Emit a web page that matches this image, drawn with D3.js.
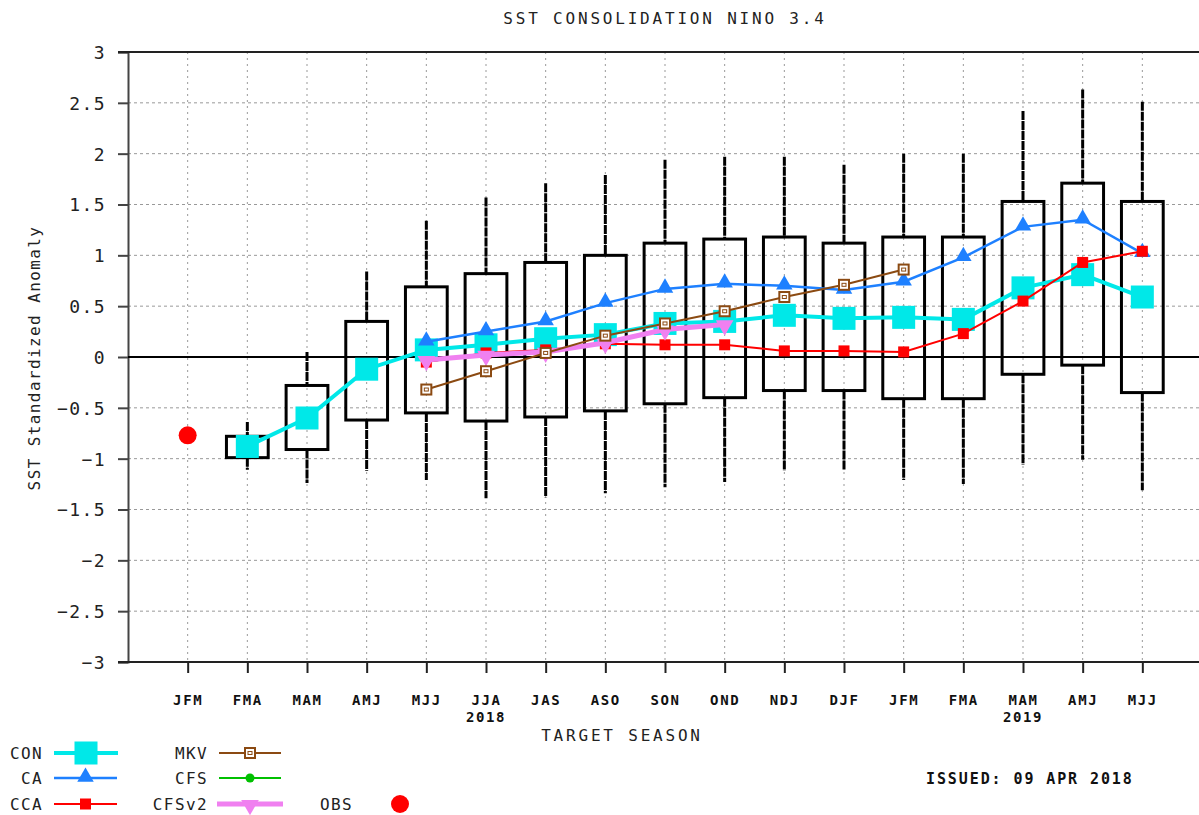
<!DOCTYPE html>
<html>
<head>
<meta charset="utf-8">
<script src="https://cdn.jsdelivr.net/npm/d3@7"></script>
<style>
  body { margin: 0; background: #fff; }
  svg { display: block; }
  text { font-family: "DejaVu Sans Mono", "Liberation Mono", monospace; fill: #222; }
</style>
</head>
<body>
<div id="chart"></div>
<script>
// target seasons and their labels
var seasons = ["JFM", "FMA", "MAM", "AMJ", "MJJ", "JJA", "JAS", "ASO", "SON", "OND", "NDJ", "DJF", "JFM", "FMA", "MAM", "AMJ", "MJJ"];
var yearLabels = [{ i: 6, text: "2018" }, { i: 15, text: "2019" }];
var yTicks = [-3, -2.5, -2, -1.5, -1, -0.5, 0, 0.5, 1, 1.5, 2, 2.5, 3];

// spread of the forecasts
var boxHigh = [null, -0.78, -0.28, 0.35, 0.69, 0.82, 0.93, 1.00, 1.12, 1.16, 1.18, 1.12, 1.18, 1.18, 1.53, 1.71, 1.53];
var boxLow = [null, -0.99, -0.91, -0.62, -0.55, -0.63, -0.59, -0.53, -0.46, -0.40, -0.33, -0.33, -0.41, -0.41, -0.17, -0.08, -0.35];
var whiskHigh = [null, -0.64, 0.05, 0.84, 1.34, 1.57, 1.71, 1.79, 1.94, 1.97, 1.97, 1.89, 2.00, 2.00, 2.42, 2.63, 2.51];
var whiskLow = [null, -1.11, -1.24, -1.12, -1.21, -1.39, -1.38, -1.34, -1.28, -1.23, -1.12, -1.11, -1.21, -1.25, -1.06, -1.01, -1.31];

// model forecasts
var con = [null, -0.88, -0.60, -0.12, 0.07, 0.12, 0.18, 0.22, 0.33, 0.35, 0.41, 0.38, 0.39, 0.37, 0.68, 0.81, 0.59];
var ca = [null, null, null, null, 0.15, 0.25, 0.35, 0.53, 0.67, 0.72, 0.70, 0.66, 0.74, 0.98, 1.28, 1.35, 1.02];
var cca = [null, null, null, null, -0.05, 0.04, 0.07, 0.13, 0.12, 0.12, 0.06, 0.06, 0.05, 0.23, 0.55, 0.93, 1.04];
var mkv = [null, null, null, null, -0.32, -0.14, 0.04, 0.21, 0.33, 0.45, 0.59, 0.71, 0.86, null, null, null, null];
var cfsv2 = [null, null, null, null, -0.03, 0.02, 0.05, 0.14, 0.27, 0.32, null, null, null, null, null, null, null];
var obs = [-0.77, null, null, null, null, null, null, null, null, null, null, null, null, null, null, null, null];

var W = 1199, H = 815;
var plotLeft = 128, plotRight = 1202, plotTop = 52, plotBottom = 662;

var svg = d3.select("#chart").append("svg")
    .attr("width", W)
    .attr("height", H);

var x = d3.scaleLinear().domain([0, seasons.length + 1]).range([plotLeft, plotRight]);
var y = d3.scaleLinear().domain([-3, 3]).range([plotBottom, plotTop]);
var step = x(1) - x(0);
var idx = d3.range(seasons.length);

// grid
svg.append("g").selectAll("line")
    .data(yTicks.filter(d => d != 0 && d != 3))
    .enter().append("line")
    .attr("x1", plotLeft).attr("x2", plotRight)
    .attr("y1", d => y(d)).attr("y2", d => y(d))
    .attr("stroke", "#999").attr("stroke-width", 1)
    .attr("stroke-dasharray", "3,3");

svg.append("g").selectAll("line")
    .data(idx)
    .enter().append("line")
    .attr("x1", i => x(i + 1)).attr("x2", i => x(i + 1))
    .attr("y1", plotTop).attr("y2", plotBottom)
    .attr("stroke", "#999").attr("stroke-width", 1)
    .attr("stroke-dasharray", "2,4");

// axes
var yAxis = svg.append("g")
    .attr("transform", "translate(" + plotLeft + ",0)")
    .call(d3.axisLeft(y).tickValues(yTicks).tickSize(10).tickPadding(12).tickFormat(d3.format("")));
yAxis.select(".domain").attr("stroke", "#444").attr("stroke-width", 2);
yAxis.selectAll(".tick line").attr("stroke", "#444").attr("stroke-width", 2);
yAxis.selectAll(".tick text")
    .style("font-size", "18px")
    .style("letter-spacing", "1.4px")
    .attr("dy", "0.36em")
    .text(d => d < 0 ? "\u2212" + Math.abs(d) : d);

var xAxis = svg.append("g")
    .attr("transform", "translate(0," + plotBottom + ")")
    .call(d3.axisBottom(x).tickValues(idx.map(i => i + 1)).tickSize(11).tickPadding(22).tickFormat(d => seasons[d - 1]));
xAxis.select(".domain").remove();
xAxis.selectAll(".tick line").attr("stroke", "#222").attr("stroke-width", 2);
xAxis.selectAll(".tick text")
    .style("font-size", "14px")
    .style("font-weight", "bold")
    .style("letter-spacing", "1.6px")
    .style("fill", "#111");

svg.append("line")
    .attr("x1", 118).attr("x2", plotRight)
    .attr("y1", plotBottom).attr("y2", plotBottom)
    .attr("stroke", "#222").attr("stroke-width", 2);
svg.append("line")
    .attr("x1", 118).attr("x2", plotRight)
    .attr("y1", plotTop).attr("y2", plotTop)
    .attr("stroke", "#222").attr("stroke-width", 2);
svg.append("line")
    .attr("x1", plotLeft).attr("x2", plotRight)
    .attr("y1", y(0)).attr("y2", y(0))
    .attr("stroke", "#000").attr("stroke-width", 2);

svg.selectAll(".year")
    .data(yearLabels)
    .enter().append("text")
    .attr("x", d => x(d.i))
    .attr("y", 722)
    .attr("text-anchor", "middle")
    .style("font-size", "14px")
    .style("font-weight", "bold")
    .style("letter-spacing", "1.6px")
    .style("fill", "#111")
    .text(d => d.text);

// boxes and whiskers
var bw = step * 0.7;
var boxIdx = idx.filter(i => boxHigh[i] != null);

svg.append("g").selectAll("line")
    .data(boxIdx)
    .enter().append("line")
    .attr("x1", i => x(i + 1)).attr("x2", i => x(i + 1))
    .attr("y1", i => y(whiskHigh[i])).attr("y2", i => y(boxHigh[i]))
    .attr("stroke", "#000").attr("stroke-width", 3)
    .attr("stroke-dasharray", "9,1");

svg.append("g").selectAll("line")
    .data(boxIdx)
    .enter().append("line")
    .attr("x1", i => x(i + 1)).attr("x2", i => x(i + 1))
    .attr("y1", i => y(boxLow[i])).attr("y2", i => y(whiskLow[i]))
    .attr("stroke", "#000").attr("stroke-width", 3)
    .attr("stroke-dasharray", "9,1");

svg.append("g").selectAll("rect")
    .data(boxIdx)
    .enter().append("rect")
    .attr("x", i => x(i + 1) - bw / 2)
    .attr("width", bw)
    .attr("y", i => y(boxHigh[i]))
    .attr("height", i => y(boxLow[i]) - y(boxHigh[i]))
    .attr("fill", "none")
    .attr("stroke", "#000").attr("stroke-width", 3);

// series
var series = [
    { name: "CON", values: con, color: "#00e8e8", width: 4, marker: "square", size: 23 },
    { name: "CA", values: ca, color: "#1e80ff", width: 2.5, marker: "triangle", size: 14 },
    { name: "CCA", values: cca, color: "#ff0000", width: 2, marker: "square", size: 11 },
    { name: "CFSv2", values: cfsv2, color: "#f080f0", width: 5, marker: "down", size: 15 },
    { name: "MKV", values: mkv, color: "#8b4a12", width: 2, marker: "open", size: 10 }
];

function drawMarker(g, m, cx, cy, color, size) {
    if (m == "square") {
        g.append("rect")
            .attr("x", cx - size / 2).attr("y", cy - size / 2)
            .attr("width", size).attr("height", size)
            .attr("fill", color);
    } else if (m == "open") {
        g.append("rect")
            .attr("x", cx - size / 2).attr("y", cy - size / 2)
            .attr("width", size).attr("height", size)
            .attr("fill", "#fff").attr("stroke", color).attr("stroke-width", 2);
        g.append("rect")
            .attr("x", cx - 2).attr("y", cy - 1.5)
            .attr("width", 4).attr("height", 3)
            .attr("fill", "none").attr("stroke", color).attr("stroke-width", 1);
    } else if (m == "triangle") {
        g.append("path")
            .attr("d", d3.symbol().type(d3.symbolTriangle).size(size * size * 0.6)())
            .attr("transform", "translate(" + cx + "," + (cy - 1) + ")")
            .attr("fill", color);
    } else if (m == "down") {
        g.append("path")
            .attr("d", d3.symbol().type(d3.symbolTriangle).size(size * size * 0.6)())
            .attr("transform", "translate(" + cx + "," + (cy + 1) + ") rotate(180)")
            .attr("fill", color);
    } else if (m == "dot") {
        g.append("circle")
            .attr("cx", cx).attr("cy", cy).attr("r", size / 2)
            .attr("fill", color);
    }
}

var line = d3.line()
    .defined(d => d.v != null)
    .x(d => x(d.i + 1))
    .y(d => y(d.v));

series.forEach(function(s) {
    var pts = s.values.map((v, i) => ({ i: i, v: v }));
    var g = svg.append("g");
    g.append("path")
        .datum(pts)
        .attr("d", line)
        .attr("fill", "none")
        .attr("stroke", s.color)
        .attr("stroke-width", s.width);
    pts.filter(d => d.v != null).forEach(function(d) {
        drawMarker(g, s.marker, x(d.i + 1), y(d.v), s.color, s.size);
    });
});

// observation
svg.append("g").selectAll("circle")
    .data(obs.map((v, i) => ({ i: i, v: v })).filter(d => d.v != null))
    .enter().append("circle")
    .attr("cx", d => x(d.i + 1))
    .attr("cy", d => y(d.v))
    .attr("r", 9)
    .attr("fill", "#ff0000");

// titles
svg.append("text")
    .attr("x", 665).attr("y", 24)
    .attr("text-anchor", "middle")
    .style("font-size", "16px")
    .style("letter-spacing", "2.8px")
    .text("SST CONSOLIDATION NINO 3.4");

svg.append("text")
    .attr("x", 622).attr("y", 741)
    .attr("text-anchor", "middle")
    .style("font-size", "16px")
    .style("letter-spacing", "2.8px")
    .text("TARGET SEASON");

svg.append("text")
    .attr("transform", "translate(40,358) rotate(-90)")
    .attr("text-anchor", "middle")
    .style("font-size", "16px")
    .style("letter-spacing", "1.4px")
    .text("SST Standardized Anomaly");

svg.append("text")
    .attr("x", 926).attr("y", 784)
    .style("font-size", "15px")
    .style("font-weight", "bold")
    .style("letter-spacing", "1.9px")
    .style("fill", "#111")
    .text("ISSUED: 09 APR 2018");

// legend
var legend = [
    { name: "CON", color: "#00e8e8", width: 4, marker: "square", size: 23, tx: 43, x1: 54, x2: 118, y: 753 },
    { name: "CA", color: "#1e80ff", width: 2.5, marker: "triangle", size: 14, tx: 43, x1: 54, x2: 117, y: 778 },
    { name: "CCA", color: "#ff0000", width: 2, marker: "square", size: 11, tx: 43, x1: 54, x2: 117, y: 804 },
    { name: "MKV", color: "#8b4a12", width: 2, marker: "open", size: 10, tx: 208, x1: 219, x2: 281, y: 753 },
    { name: "CFS", color: "#00c000", width: 2, marker: "dot", size: 9, tx: 208, x1: 219, x2: 281, y: 778 },
    { name: "CFSv2", color: "#f080f0", width: 5, marker: "down", size: 15, tx: 208, x1: 217, x2: 283, y: 804 }
];

legend.forEach(function(l) {
    var g = svg.append("g");
    g.append("text")
        .attr("x", l.tx).attr("y", l.y)
        .attr("dy", "0.36em")
        .attr("text-anchor", "end")
        .style("font-size", "16px")
        .style("letter-spacing", "1.4px")
        .text(l.name);
    g.append("line")
        .attr("x1", l.x1).attr("x2", l.x2)
        .attr("y1", l.y).attr("y2", l.y)
        .attr("stroke", l.color).attr("stroke-width", l.width);
    drawMarker(g, l.marker, (l.x1 + l.x2) / 2, l.y, l.color, l.size);
});

svg.append("text")
    .attr("x", 320).attr("y", 804)
    .attr("dy", "0.36em")
    .style("font-size", "16px")
    .style("letter-spacing", "1.4px")
    .text("OBS");
svg.append("circle")
    .attr("cx", 400).attr("cy", 804).attr("r", 9)
    .attr("fill", "#ff0000");
</script>
</body>
</html>
